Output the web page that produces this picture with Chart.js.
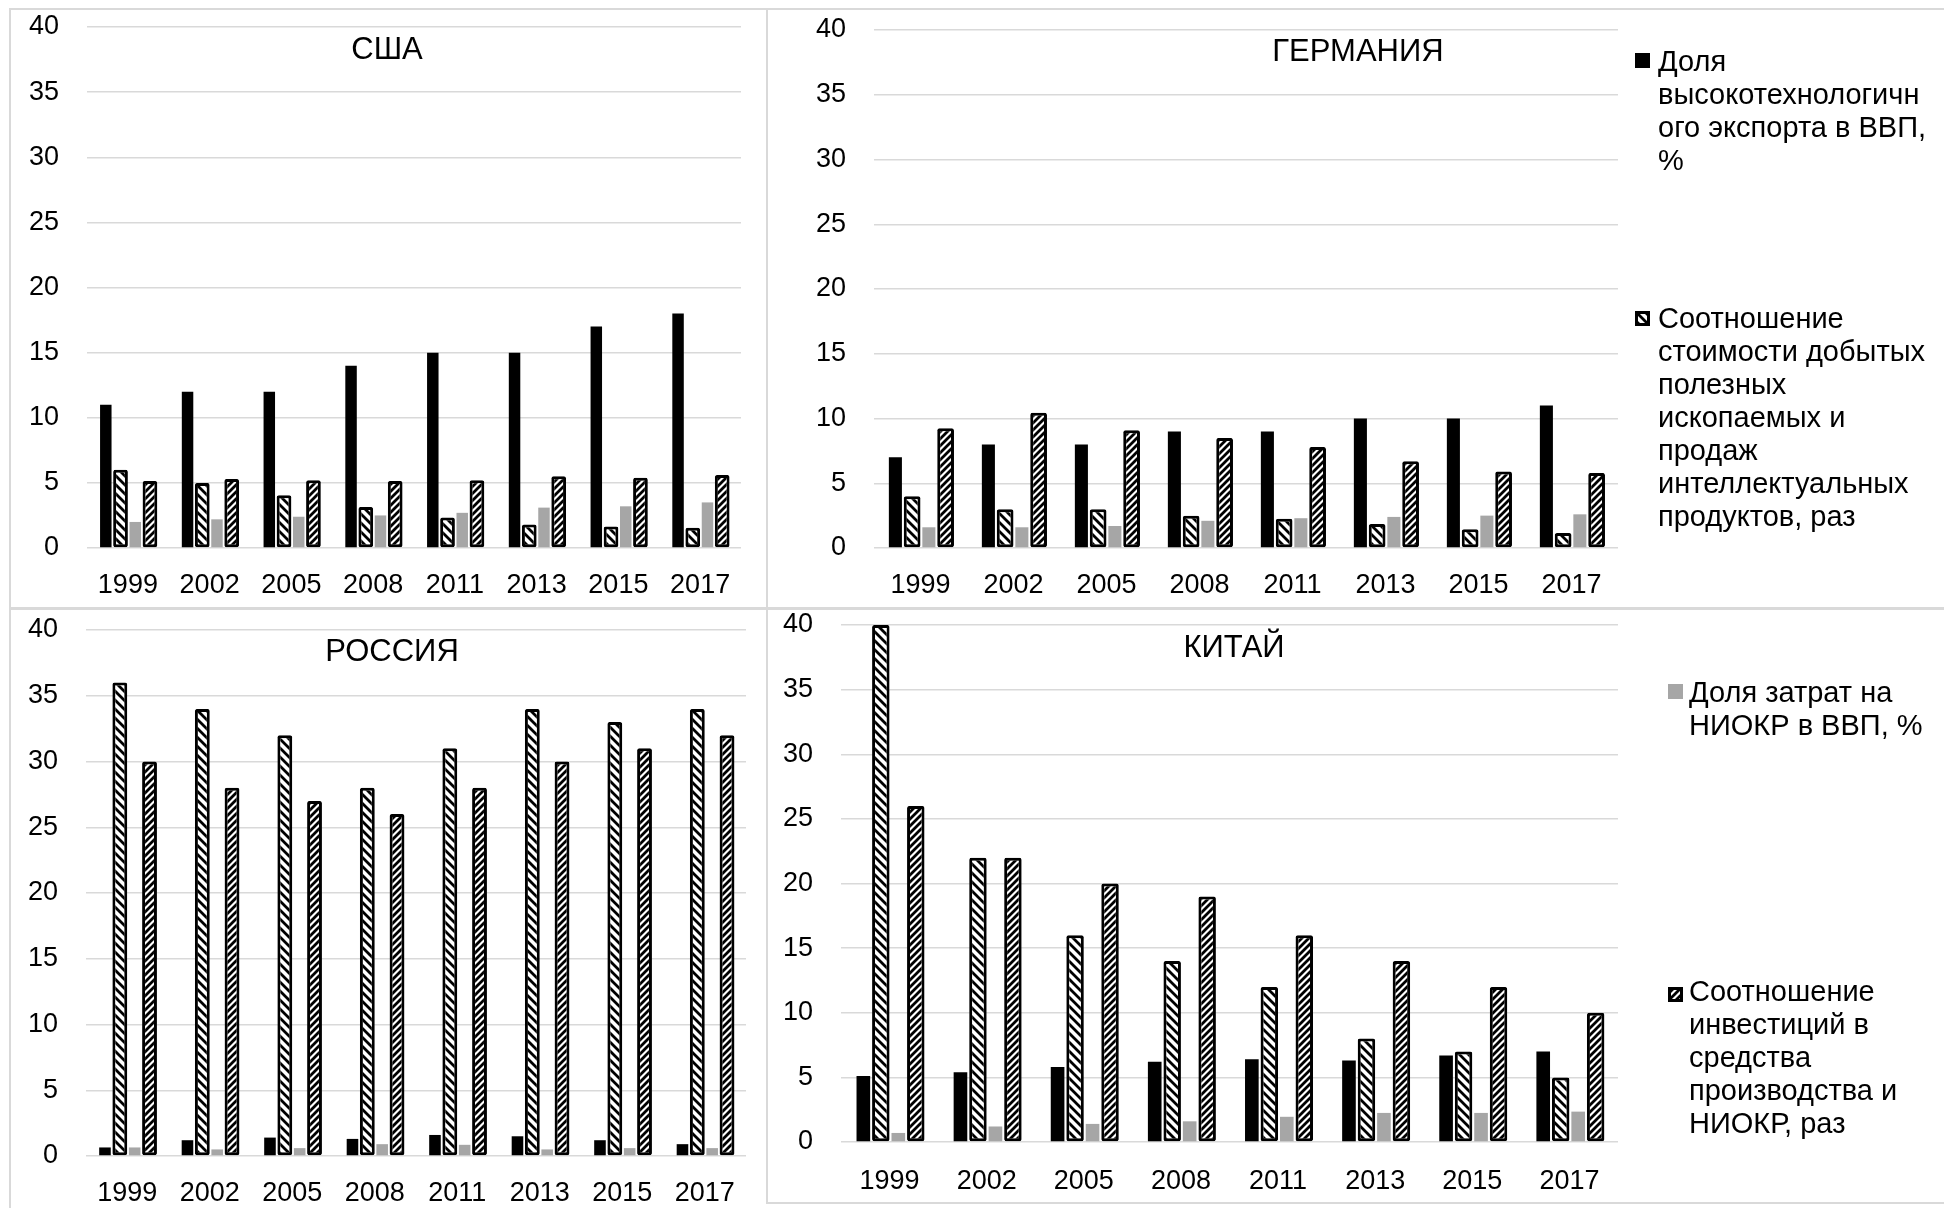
<!DOCTYPE html>
<html>
<head>
<meta charset="utf-8">
<script src="https://cdn.jsdelivr.net/npm/chart.js@4.4.1/dist/chart.umd.min.js"></script>
<style>
  html, body { margin: 0; padding: 0; background: #fff; }
  body { width: 1944px; height: 1208px; position: relative; overflow: hidden;
         font-family: "Liberation Sans", Arial, sans-serif; color: #000; }
  canvas.full { position: absolute; left: 0; top: 0; }
  .ln { position: absolute; background: #d9d9d9; }
  .leg { position: absolute; font-size: 29px; line-height: 33px; white-space: nowrap; color: #000; }
  .sw { position: absolute; }
</style>
</head>
<body>
<div class="ln" style="left:9px;top:8px;width:1935px;height:2px"></div>
<div class="ln" style="left:9px;top:8px;width:2px;height:1200px"></div>
<div class="ln" style="left:766px;top:8px;width:2px;height:1196px"></div>
<div class="ln" style="left:9px;top:607px;width:1935px;height:3px"></div>
<div class="ln" style="left:766px;top:1202px;width:1178px;height:2px"></div>

<canvas id="cUSA" class="full" width="1944" height="1208"></canvas>
<canvas id="cDEU" class="full" width="1944" height="1208"></canvas>
<canvas id="cRUS" class="full" width="1944" height="1208"></canvas>
<canvas id="cCHN" class="full" width="1944" height="1208"></canvas>

<canvas id="sw1" class="sw" width="15" height="15" style="left:1635px;top:53px"></canvas>
<div id="lg1" class="leg" style="left:1658px;top:45px"></div>
<canvas id="sw2" class="sw" width="15" height="15" style="left:1635px;top:311px"></canvas>
<div id="lg2" class="leg" style="left:1658px;top:302px"></div>
<canvas id="sw3" class="sw" width="15" height="15" style="left:1668px;top:684px"></canvas>
<div id="lg3" class="leg" style="left:1689px;top:676px"></div>
<canvas id="sw4" class="sw" width="15" height="15" style="left:1668px;top:987px"></canvas>
<div id="lg4" class="leg" style="left:1689px;top:975px"></div>

<script>
// ---------- DATA ----------
const years = ['1999', '2002', '2005', '2008', '2011', '2013', '2015', '2017'];
const yTicks = [0, 5, 10, 15, 20, 25, 30, 35, 40];

const seriesNames = [
  'Доля высокотехнологичного экспорта в ВВП, %',
  'Соотношение стоимости добытых полезных ископаемых и продаж интеллектуальных продуктов, раз',
  'Доля затрат на НИОКР в ВВП, %',
  'Соотношение инвестиций в средства производства и НИОКР, раз'
];
const legendLines1 = ['Доля', 'высокотехнологичн', 'ого экспорта в ВВП,', '%'];
const legendLines2 = ['Соотношение', 'стоимости добытых', 'полезных', 'ископаемых и', 'продаж', 'интеллектуальных', 'продуктов, раз'];
const legendLines3 = ['Доля затрат на', 'НИОКР в ВВП, %'];
const legendLines4 = ['Соотношение', 'инвестиций в', 'средства', 'производства и', 'НИОКР, раз'];

const usaHighTech = [11, 12, 12, 14, 15, 15, 17, 18];
const usaMinerals = [6.0, 5.0, 4.05, 3.15, 2.35, 1.8, 1.65, 1.55];
const usaRnd      = [2.0, 2.2, 2.4, 2.5, 2.7, 3.1, 3.2, 3.5];
const usaInvest   = [5.15, 5.3, 5.2, 5.15, 5.2, 5.5, 5.4, 5.6];

const deuHighTech = [7, 8, 8, 9, 9, 10, 10, 11];
const deuMinerals = [4.0, 3.0, 3.0, 2.5, 2.25, 1.85, 1.45, 1.15];
const deuRnd      = [1.6, 1.6, 1.7, 2.1, 2.3, 2.4, 2.5, 2.6];
const deuInvest   = [9.25, 10.45, 9.1, 8.5, 7.8, 6.7, 5.9, 5.8];

const rusHighTech = [0.65, 1.2, 1.4, 1.3, 1.6, 1.5, 1.2, 0.9];
const rusMinerals = [36, 34, 32, 28, 31, 34, 33, 34];
const rusRnd      = [0.65, 0.5, 0.6, 0.9, 0.85, 0.5, 0.6, 0.6];
const rusInvest   = [30, 28, 27, 26, 28, 30, 31, 32];

const chnHighTech = [5.1, 5.4, 5.8, 6.2, 6.4, 6.3, 6.7, 7.0];
const chnMinerals = [40, 22, 16, 14, 12, 8, 7, 5];
const chnRnd      = [0.7, 1.2, 1.4, 1.6, 1.95, 2.25, 2.25, 2.35];
const chnInvest   = [26, 22, 20, 19, 16, 14, 12, 10];

// ---------- STYLES ----------
const FONT = '"Liberation Sans", Arial, sans-serif';
const GRAY = '#a6a6a6';

function hatch(dir, s, lw) {
  const c = document.createElement('canvas');
  c.width = s; c.height = s;
  const g = c.getContext('2d');
  g.fillStyle = '#fff'; g.fillRect(0, 0, s, s);
  g.strokeStyle = '#000'; g.lineWidth = lw; g.lineCap = 'square';
  g.beginPath();
  if (dir === 'back') {
    g.moveTo(0, 0); g.lineTo(s, s);
    g.moveTo(-s / 2, s / 2); g.lineTo(s / 2, s * 1.5);
    g.moveTo(s / 2, -s / 2); g.lineTo(s * 1.5, s / 2);
  } else {
    g.moveTo(0, s); g.lineTo(s, 0);
    g.moveTo(-s / 2, s / 2); g.lineTo(s / 2, -s / 2);
    g.moveTo(s / 2, s * 1.5); g.lineTo(s * 1.5, s / 2);
  }
  g.stroke();
  return g.createPattern(c, 'repeat');
}
const patBack = hatch('back', 9, 2.8);
const patFwd = hatch('fwd', 7, 2.8);

const titlePlugin = {
  id: 'panelTitle',
  afterDraw(chart, args, o) {
    const c = chart.ctx;
    c.save();
    c.font = '31px ' + FONT;
    c.fillStyle = '#000';
    c.textAlign = 'center';
    c.textBaseline = 'middle';
    c.fillText(o.text, o.x, o.y);
    c.restore();
  }
};

function makeChart(id, title, tx, ty, area, xpad, d1, d2, d3, d4) {
  const W = 1944, H = 1208, XH = 60;
  return new Chart(document.getElementById(id), {
    type: 'bar',
    data: {
      labels: years,
      datasets: [
        { label: seriesNames[0], data: d1, backgroundColor: '#000', borderWidth: 0, barPercentage: 0.78 },
        { label: seriesNames[1], data: d2, backgroundColor: patBack, borderColor: '#000', borderWidth: 3,
          borderSkipped: false, borderRadius: 2, barPercentage: 1.0 },
        { label: seriesNames[2], data: d3, backgroundColor: GRAY, borderWidth: 0, barPercentage: 0.78 },
        { label: seriesNames[3], data: d4, backgroundColor: patFwd, borderColor: '#000', borderWidth: 3,
          borderSkipped: false, borderRadius: 2, barPercentage: 1.0 }
      ]
    },
    options: {
      responsive: false,
      animation: false,
      devicePixelRatio: 1,
      datasets: { bar: { categoryPercentage: 0.72 } },
      layout: { padding: { left: 0, top: area.top, right: W - area.right, bottom: H - area.bottom - XH } },
      plugins: {
        legend: { display: false },
        tooltip: { enabled: false },
        panelTitle: { text: title, x: tx, y: ty }
      },
      scales: {
        x: {
          grid: { display: false, drawTicks: false },
          border: { display: false },
          ticks: { font: { family: FONT, size: 27 }, color: '#000', padding: xpad, maxRotation: 0, autoSkip: false },
          afterFit(s) { s.height = XH; s.paddingLeft = 0; s.paddingRight = 0; }
        },
        y: {
          min: 0, max: 40,
          afterBuildTicks(s) { s.ticks = yTicks.map(v => ({ value: v })); },
          grid: { color: '#d9d9d9', lineWidth: 1.5, drawTicks: false },
          border: { display: false },
          ticks: { font: { family: FONT, size: 27 }, color: '#000', padding: 28 },
          afterFit(s) { s.width = area.left; s.paddingTop = 0; s.paddingBottom = 0; }
        }
      }
    },
    plugins: [titlePlugin]
  });
}

makeChart('cUSA', 'США', 387, 50, { left: 87, right: 741, top: 27, bottom: 548 }, 21,
  usaHighTech, usaMinerals, usaRnd, usaInvest);
makeChart('cDEU', 'ГЕРМАНИЯ', 1358, 52, { left: 874, right: 1618, top: 30, bottom: 548 }, 21,
  deuHighTech, deuMinerals, deuRnd, deuInvest);
makeChart('cRUS', 'РОССИЯ', 392, 652, { left: 86, right: 746, top: 630, bottom: 1156 }, 21,
  rusHighTech, rusMinerals, rusRnd, rusInvest);
makeChart('cCHN', 'КИТАЙ', 1234, 648, { left: 841, right: 1618, top: 625, bottom: 1142 }, 23,
  chnHighTech, chnMinerals, chnRnd, chnInvest);

// ---------- LEGEND ----------
function fillLegend(id, lines) {
  document.getElementById(id).innerHTML = lines.map(t => t.replace(/&/g, '&amp;')).join('<br>');
}
fillLegend('lg1', legendLines1);
fillLegend('lg2', legendLines2);
fillLegend('lg3', legendLines3);
fillLegend('lg4', legendLines4);

function swatch(id, fill, border) {
  const g = document.getElementById(id).getContext('2d');
  g.fillStyle = fill; g.fillRect(0, 0, 15, 15);
  if (border) { g.strokeStyle = '#000'; g.lineWidth = 3; g.strokeRect(1.5, 1.5, 12, 12); }
}
swatch('sw1', '#000', false);
swatch('sw2', patBack, true);
swatch('sw3', GRAY, false);
swatch('sw4', patFwd, true);
</script>
</body>
</html>
